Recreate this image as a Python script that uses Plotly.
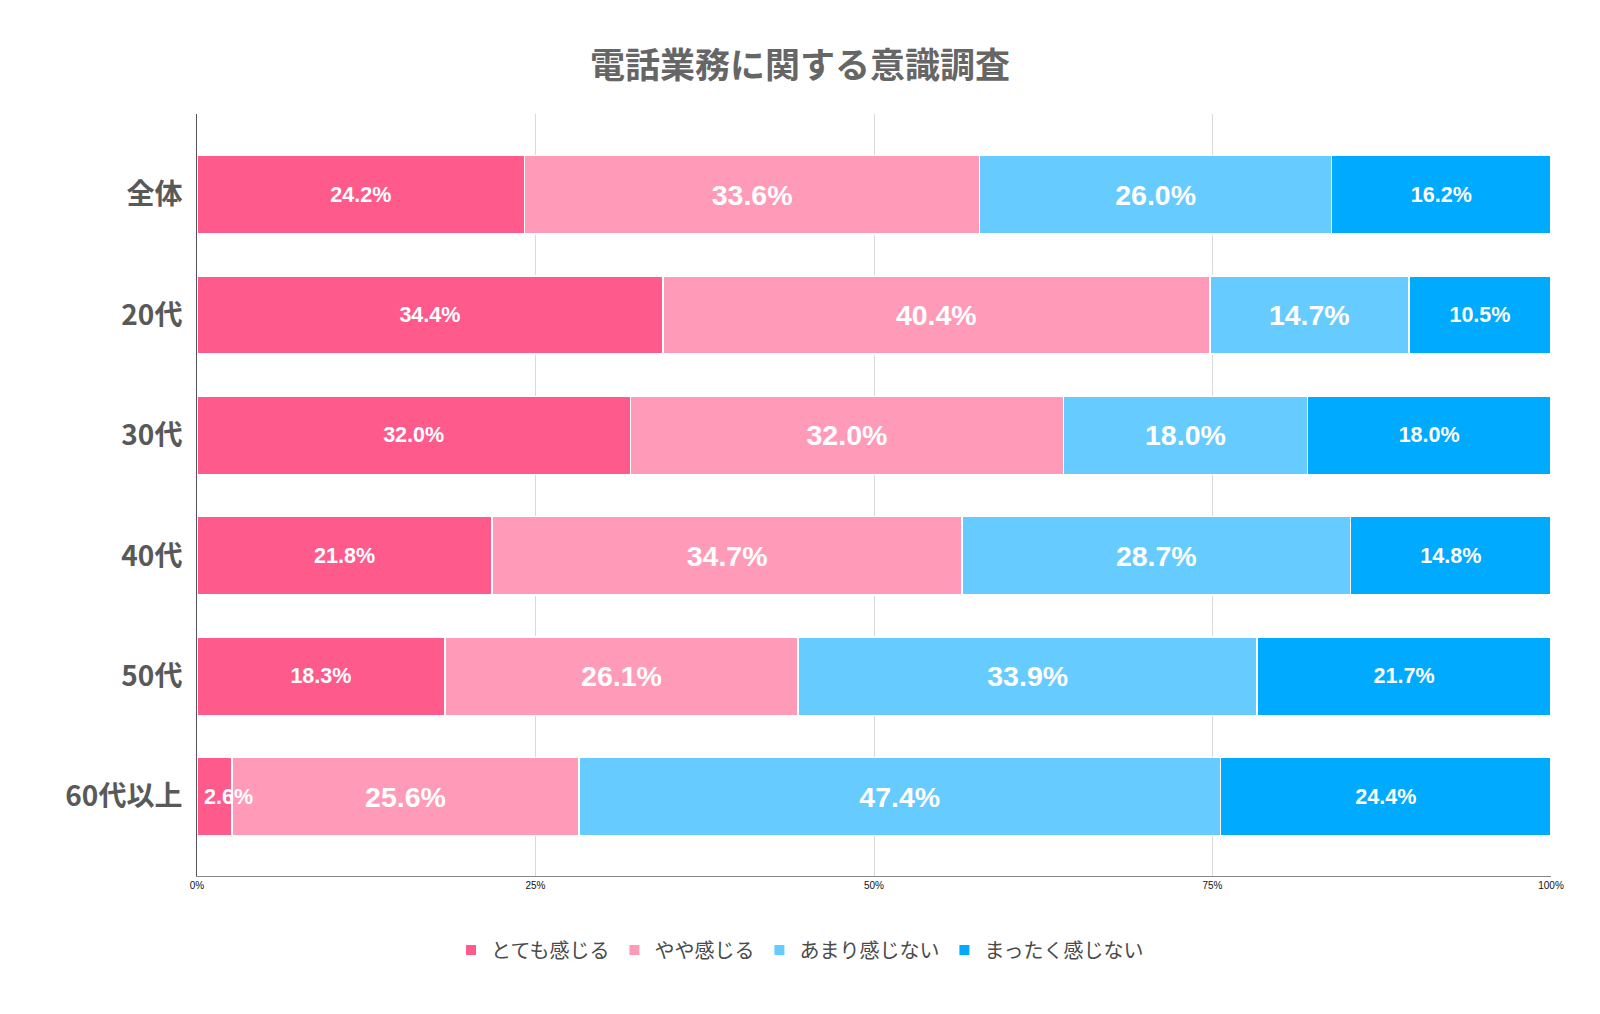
import plotly.graph_objects as go

categories = ["全体", "20代", "30代", "40代", "50代", "60代以上"]
series_names = ["とても感じる", "やや感じる", "あまり感じない", "まったく感じない"]
v_very = [24.2, 34.4, 32.0, 21.8, 18.3, 2.6]
v_some = [33.6, 40.4, 32.0, 34.7, 26.1, 25.6]
v_little = [26.0, 14.7, 18.0, 28.7, 33.9, 47.4]
v_none = [16.2, 10.5, 18.0, 14.8, 21.7, 24.4]
tick_vals = [0, 25, 50, 75, 100]
tick_text = ["0%", "25%", "50%", "75%", "100%"]

colors = ["#FF5A8C", "#FF9BB9", "#66CCFF", "#00AAFF"]
label_sizes = [21.5, 28.5, 28.5, 21.5]
values = [v_very, v_some, v_little, v_none]

FONT = "Liberation Sans, Arial, Noto Sans CJK JP, sans-serif"
CJK = "Noto Sans CJK JP, Liberation Sans, sans-serif"

# page has an 8px body margin, so the figure is sized/offset accordingly
W, H = 1584, 1000
L, R, T, B = 189, 41, 106, 132
plot_w = W - L - R
plot_h = H - T - B

fig = go.Figure()
annotations = []
for i, (name, vals, col, fs) in enumerate(zip(series_names, values, colors, label_sizes)):
    texts = []
    for j, v in enumerate(vals):
        if v < 5:
            texts.append("")
            annotations.append(dict(x=0, y=categories[j], xref="x", yref="y", text=f"{v:.1f}%",
                                    showarrow=False, xanchor="left", xshift=5,
                                    font=dict(family=FONT, size=fs, color="white", weight="bold")))
        else:
            texts.append(f"{v:.1f}%")
    fig.add_trace(go.Bar(
        name=name, y=categories, x=vals, orientation="h",
        marker=dict(color=col, line=dict(color="white", width=1.5)),
        text=texts, textposition="inside", insidetextanchor="middle",
        textangle=0, constraintext="none",
        textfont=dict(family=FONT, size=fs, color="white", weight="bold"),
        hoverinfo="skip",
    ))

fig.update_layout(
    barmode="stack",
    bargap=0.35,
    width=W, height=H,
    paper_bgcolor="white", plot_bgcolor="white",
    margin=dict(l=L, r=R, t=T, b=B, autoexpand=False),
    title=dict(text="<b>電話業務に関する意識調査</b>", x=0.5, xanchor="center",
               xref="container", y=1 - 58 / H, yanchor="middle", yref="container",
               font=dict(family=CJK, size=35, color="#666666")),
    xaxis=dict(range=[0, 100], tickvals=tick_vals, ticktext=tick_text,
               showgrid=True, gridcolor="#D9D9D9", gridwidth=1,
               showline=True, linecolor="#888888", linewidth=1,
               zeroline=False, ticks="", fixedrange=True,
               tickfont=dict(family="Liberation Sans Narrow, Arial Narrow, Liberation Sans", size=10, color="#111111")),
    yaxis=dict(categoryorder="array", categoryarray=categories,
               range=[5.66, -0.67], showgrid=False, zeroline=False,
               showline=True, linecolor="#555555", linewidth=1,
               ticks="", ticklabelstandoff=8,
               tickfont=dict(family=CJK, size=28, color="#595959", weight="bold")),
    legend=dict(orientation="h", x=(W / 2 - L) / plot_w, xanchor="center", xref="paper",
                y=-(942 - (H - B)) / plot_h, yanchor="middle", traceorder="normal",
                font=dict(family=CJK, size=20, color="#4a4a4a"),
                itemsizing="constant"),
    annotations=annotations,
    showlegend=True,
)

fig.write_html("out.html")
